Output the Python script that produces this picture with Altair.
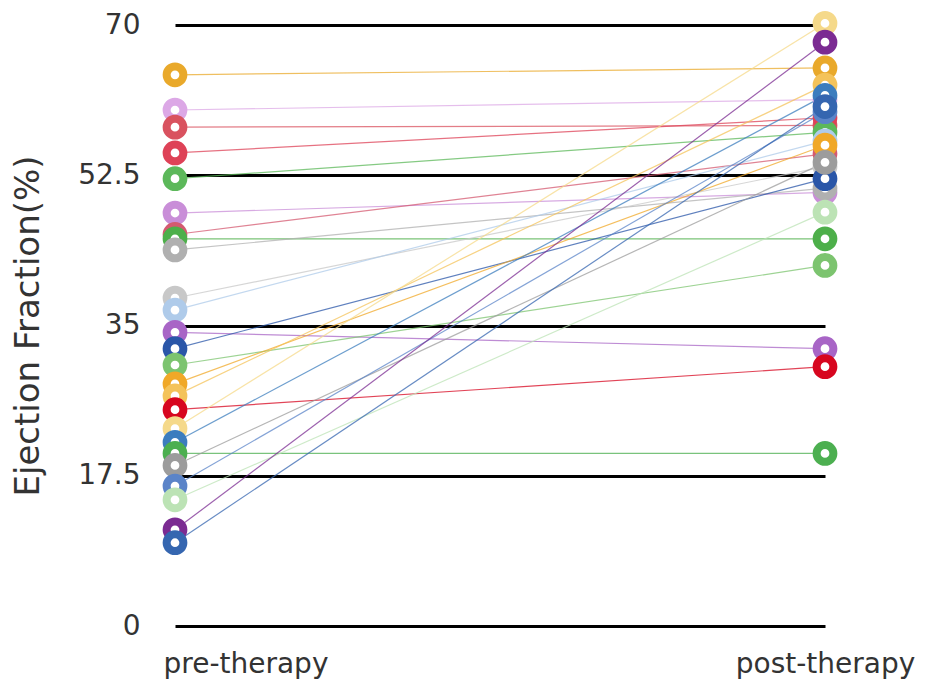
import altair as alt
import pandas as pd

phases = ["pre-therapy", "post-therapy"]
y_ticks = [0, 17.5, 35, 52.5, 70]

pre_values = [64.2, 60.1, 58.1, 55.1, 52.1, 48.1, 45.6, 45.1, 43.8, 38.2, 36.8, 34.2,
              32.3, 30.4, 28.2, 26.8, 25.2, 23.0, 21.4, 20.1, 18.7, 16.3, 14.7, 11.2, 9.7]
post_values = [65.0, 61.3, 58.3, 59.2, 57.5, 50.5, 55.0, 45.1, 51.0, 53.5, 56.5, 32.3,
               52.1, 42.0, 56.0, 63.0, 30.2, 70.2, 61.8, 20.1, 54.0, 59.9, 48.2, 68.0, 60.5]
colors = ["#E9A92B", "#DCA8E6", "#D9525F", "#DE4257", "#5CB85A", "#C98ED8", "#D45A70",
          "#4DAF4A", "#B0B0B0", "#C8C8C8", "#AFCBEA", "#A865C6", "#2A56A8", "#7CC46F",
          "#F0A828", "#F4C35A", "#D7061F", "#F5D98A", "#3C7DBE", "#4CAF50", "#9C9C9C",
          "#5B84C8", "#BCE3B5", "#7B2B92", "#3566B0"]

rows = []
for i, (a, b, c) in enumerate(zip(pre_values, post_values, colors)):
    rows.append({"patient": i, "phase": phases[0], "ef": a, "color": c, "ord": i})
    rows.append({"patient": i, "phase": phases[1], "ef": b, "color": c, "ord": i})
df = pd.DataFrame(rows)

x_enc = alt.X(
    "phase:N",
    sort=phases,
    scale=alt.Scale(domain=phases, padding=0),
    axis=alt.Axis(
        title=None, domain=False, ticks=False, grid=False, labelAngle=0,
        labelFont="DejaVu Sans", labelFontSize=28, labelColor="#333333",
        labelPadding=24, labelOverlap=False, labelBound=False, labelFlush=False,
        labelAlign={"condition": {"test": "datum.value == 'pre-therapy'", "value": "left"}, "value": "center"},
        labelOffset={"condition": {"test": "datum.value == 'pre-therapy'", "value": -12}, "value": 0},
    ),
)
y_enc = alt.Y(
    "ef:Q",
    scale=alt.Scale(domain=[0, 70], nice=False, zero=True),
    axis=alt.Axis(
        title="Ejection Fraction(%)", values=y_ticks, labelExpr="'' + datum.value",
        domain=False, ticks=False, grid=True, gridColor="#000000", gridWidth=3,
        gridOpacity=1, labelFont="DejaVu Sans", labelFontSize=28, labelColor="#333333",
        labelPadding=35, titleFont="DejaVu Sans", titleFontSize=34,
        titleFontWeight="normal", titleColor="#333333", titlePadding=32,
    ),
)

lines = alt.Chart(df).mark_line(strokeWidth=1.2, opacity=0.75).encode(
    x=x_enc, y=y_enc, detail="patient:N",
    stroke=alt.Stroke("color:N", scale=None),
)
points = alt.Chart(df).mark_point(shape="circle", filled=True, size=280, strokeWidth=8, opacity=1).encode(
    x=x_enc, y=y_enc,
    stroke=alt.Stroke("color:N", scale=None),
    fill=alt.value("white"),
    order=alt.Order("ord:Q"),
)

chart = alt.layer(lines, points).properties(
    width=650, height=601,
    background="white",
    autosize=alt.AutoSizeParams(type="none"),
    padding={"left": 167, "top": 17, "right": 91, "bottom": 58},
).configure_view(stroke=None).configure_axisX(grid=False)

chart.save("out.html", embed_options={"renderer": "svg", "actions": False})
